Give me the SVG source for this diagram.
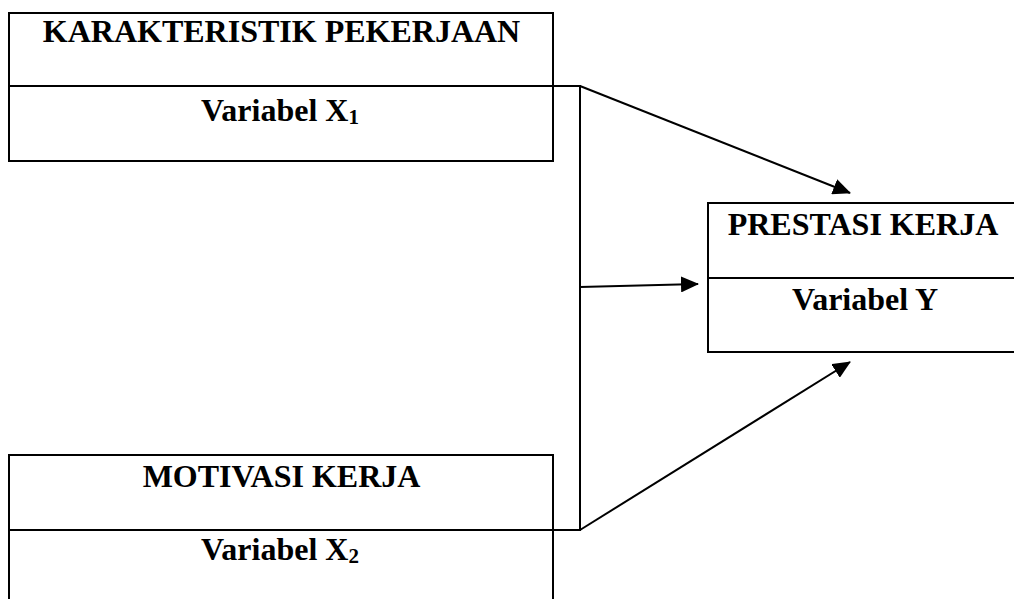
<svg xmlns="http://www.w3.org/2000/svg" width="1014" height="599" viewBox="0 0 1014 599">
<style>
.box{fill:#fff;stroke:#000;stroke-width:2}
.div{stroke:#000;stroke-width:2}
.t{font-family:"Liberation Serif","Times New Roman",serif;font-weight:bold;font-size:32px;fill:#000;text-anchor:middle}
.sub{font-size:21px}
.con{fill:none;stroke:#000;stroke-width:2}
</style>
<defs>
<marker id="ah" markerUnits="userSpaceOnUse" markerWidth="18" markerHeight="16" refX="17" refY="8" orient="auto">
<path d="M0,0 L18,8 L0,16 Z" fill="#000"/>
</marker>
</defs>
<rect width="1014" height="599" fill="#fff"/>
<g id="node-x1">
<rect class="box" x="9" y="13" width="544" height="148"/>
<line class="div" x1="9" y1="86" x2="553" y2="86"/>
<text class="t" x="281.5" y="42">KARAKTERISTIK PEKERJAAN</text>
<text class="t" x="280" y="121">Variabel X<tspan class="sub" dy="3">1</tspan></text>
</g>
<g id="node-y">
<rect class="box" x="708" y="203" width="320" height="149"/>
<line class="div" x1="708" y1="278" x2="1014" y2="278"/>
<text class="t" x="863" y="235">PRESTASI KERJA</text>
<text class="t" x="865" y="310">Variabel Y</text>
</g>
<g id="node-x2">
<rect class="box" x="9" y="455" width="544" height="160"/>
<line class="div" x1="9" y1="530" x2="553" y2="530"/>
<text class="t" x="281.5" y="487">MOTIVASI KERJA</text>
<text class="t" x="280" y="560">Variabel X<tspan class="sub" dy="3">2</tspan></text>
</g>
<g id="connectors">
<polyline class="con" points="553,86 580,86 580,530 553,530"/>
<line class="con" x1="580" y1="86" x2="850" y2="193" marker-end="url(#ah)"/>
<line class="con" x1="580" y1="287" x2="698" y2="284" marker-end="url(#ah)"/>
<line class="con" x1="580" y1="530" x2="850" y2="362" marker-end="url(#ah)"/>
</g>
</svg>
